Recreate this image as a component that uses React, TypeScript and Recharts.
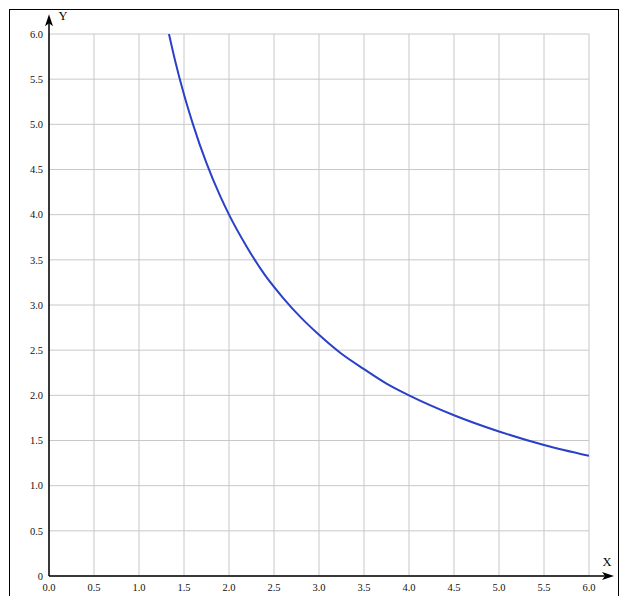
import { LineChart, Line, XAxis, YAxis, CartesianGrid, ReferenceLine, ReferenceDot } from 'recharts';

const xValues = [1.333, 1.4, 1.5, 1.6, 1.75, 1.9, 2.0, 2.2, 2.4, 2.6, 2.8, 3.0, 3.25, 3.5, 3.75, 4.0, 4.5, 5.0, 5.5, 6.0];
const yValues = [6.0, 5.71, 5.33, 5.0, 4.57, 4.21, 4.0, 3.64, 3.33, 3.08, 2.86, 2.67, 2.46, 2.29, 2.13, 2.0, 1.78, 1.6, 1.45, 1.33];
const xTicks = [0, 0.5, 1, 1.5, 2, 2.5, 3, 3.5, 4, 4.5, 5, 5.5, 6];
const yTicks = [0, 0.5, 1, 1.5, 2, 2.5, 3, 3.5, 4, 4.5, 5, 5.5, 6];

const data = xValues.map((x, i) => ({ x, y: yValues[i] }));

const tickStyle = { fontFamily: '"Liberation Serif", serif', fontSize: 10.5, fill: '#111' };

const ArrowRight = (props: any) => {
  const { cx, cy } = props;
  return (
    <g>
      <path d={`M${cx},${cy} L${cx - 12},${cy - 4} L${cx - 9},${cy} L${cx - 12},${cy + 4} Z`} fill="#000" />
      <text x={cx - 7} y={cy - 10} textAnchor="middle" fontFamily='"Liberation Serif", serif' fontSize={12.5} fill="#000">X</text>
    </g>
  );
};

const ArrowUp = (props: any) => {
  const { cx, cy } = props;
  return (
    <g>
      <path d={`M${cx},${cy} L${cx - 4},${cy + 12} L${cx},${cy + 9} L${cx + 4},${cy + 12} Z`} fill="#000" />
      <text x={cx + 14} y={cy + 6} textAnchor="middle" fontFamily='"Liberation Serif", serif' fontSize={12.5} fill="#000">Y</text>
    </g>
  );
};

const App = () => {
  return (
    <div style={{ position: 'absolute', left: 0, top: 0, width: 627, height: 596, background: '#fff' }}>
      <div style={{ position: 'absolute', left: 9, top: 9, width: 608, height: 600, border: '1px solid #000', pointerEvents: 'none' }} />
      <LineChart width={627} height={596} data={data} margin={{ top: 34, right: 38, bottom: 0, left: 9 }}>
        <CartesianGrid stroke="#c8c8c8" strokeWidth={1} />
        <XAxis
          dataKey="x"
          type="number"
          domain={[0, 6]}
          ticks={xTicks}
          height={20}
          axisLine={false}
          tickLine={false}
          tickSize={0}
          tickMargin={8}
          tick={tickStyle}
          tickFormatter={(v: number) => v.toFixed(1)}
          allowDataOverflow
        />
        <YAxis
          type="number"
          domain={[0, 6]}
          ticks={yTicks}
          width={40}
          axisLine={false}
          tickLine={false}
          tickSize={0}
          tickMargin={6}
          tick={tickStyle}
          tickFormatter={(v: number) => (v === 0 ? '0' : v.toFixed(1))}
          allowDataOverflow
        />
        <Line type="monotone" dataKey="y" stroke="#2a40c8" strokeWidth={2} dot={false} isAnimationActive={false} />
        <ReferenceLine segment={[{ x: 0, y: 0 }, { x: 6.2, y: 0 }]} stroke="#000" strokeWidth={1.5} ifOverflow="visible" />
        <ReferenceLine segment={[{ x: 0, y: 0 }, { x: 0, y: 6.15 }]} stroke="#000" strokeWidth={1.5} ifOverflow="visible" />
        <ReferenceDot x={6.278} y={0} ifOverflow="visible" shape={ArrowRight} />
        <ReferenceDot x={0} y={6.22} ifOverflow="visible" shape={ArrowUp} />
      </LineChart>
    </div>
  );
};

export default App;
